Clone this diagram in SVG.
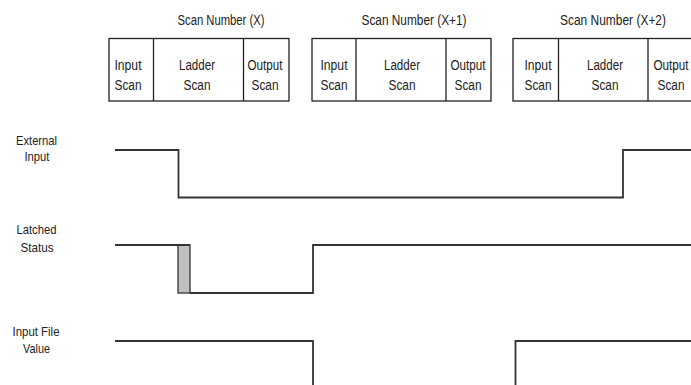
<svg xmlns="http://www.w3.org/2000/svg" width="691" height="385" viewBox="0 0 691 385">
<style>
text{font-family:"Liberation Sans",Arial,sans-serif;fill:#222;text-anchor:middle}
.t{font-size:14px}
.b{font-size:14px}
.l{font-size:13.5px}
.box{fill:#fff;stroke:#222;stroke-width:1.3}
.div{stroke:#222;stroke-width:1.3}
.w{fill:none;stroke:#333;stroke-width:1.8;stroke-linejoin:miter}
</style>
<rect width="691" height="385" fill="#fff"/>
<g id="scan1">
<text class="t" x="221" y="25" textLength="87" lengthAdjust="spacingAndGlyphs">Scan Number (X)</text>
<rect class="box" x="109" y="38.5" width="180" height="62.5"/>
<line class="div" x1="153.5" y1="38.5" x2="153.5" y2="101"/>
<line class="div" x1="243.5" y1="38.5" x2="243.5" y2="101"/>
<text class="b" x="128" y="69.5" textLength="27" lengthAdjust="spacingAndGlyphs">Input</text><text class="b" x="128" y="89.5" textLength="27" lengthAdjust="spacingAndGlyphs">Scan</text>
<text class="b" x="197" y="69.5" textLength="36" lengthAdjust="spacingAndGlyphs">Ladder</text><text class="b" x="197" y="89.5" textLength="27" lengthAdjust="spacingAndGlyphs">Scan</text>
<text class="b" x="265" y="69.5" textLength="35" lengthAdjust="spacingAndGlyphs">Output</text><text class="b" x="265" y="89.5" textLength="27" lengthAdjust="spacingAndGlyphs">Scan</text>
</g>
<g id="scan2">
<text class="t" x="414" y="25" textLength="105" lengthAdjust="spacingAndGlyphs">Scan Number (X+1)</text>
<rect class="box" x="312" y="38.5" width="179" height="62.5"/>
<line class="div" x1="356" y1="38.5" x2="356" y2="101"/>
<line class="div" x1="446" y1="38.5" x2="446" y2="101"/>
<text class="b" x="334" y="69.5" textLength="27" lengthAdjust="spacingAndGlyphs">Input</text><text class="b" x="334" y="89.5" textLength="27" lengthAdjust="spacingAndGlyphs">Scan</text>
<text class="b" x="402" y="69.5" textLength="36" lengthAdjust="spacingAndGlyphs">Ladder</text><text class="b" x="402" y="89.5" textLength="27" lengthAdjust="spacingAndGlyphs">Scan</text>
<text class="b" x="468" y="69.5" textLength="35" lengthAdjust="spacingAndGlyphs">Output</text><text class="b" x="468" y="89.5" textLength="27" lengthAdjust="spacingAndGlyphs">Scan</text>
</g>
<g id="scan3">
<text class="t" x="613" y="25" textLength="106" lengthAdjust="spacingAndGlyphs">Scan Number (X+2)</text>
<rect class="box" x="513" y="38.5" width="190" height="62.5"/>
<line class="div" x1="558.5" y1="38.5" x2="558.5" y2="101"/>
<line class="div" x1="648" y1="38.5" x2="648" y2="101"/>
<text class="b" x="538" y="69.5" textLength="27" lengthAdjust="spacingAndGlyphs">Input</text><text class="b" x="538" y="89.5" textLength="27" lengthAdjust="spacingAndGlyphs">Scan</text>
<text class="b" x="605" y="69.5" textLength="36" lengthAdjust="spacingAndGlyphs">Ladder</text><text class="b" x="605" y="89.5" textLength="27" lengthAdjust="spacingAndGlyphs">Scan</text>
<text class="b" x="671" y="69.5" textLength="35" lengthAdjust="spacingAndGlyphs">Output</text><text class="b" x="671" y="89.5" textLength="27" lengthAdjust="spacingAndGlyphs">Scan</text>
</g>
<g id="labels">
<text class="l" x="36.5" y="145" textLength="41" lengthAdjust="spacingAndGlyphs">External</text><text class="l" x="37" y="161" textLength="25" lengthAdjust="spacingAndGlyphs">Input</text>
<text class="l" x="36.5" y="234" textLength="40" lengthAdjust="spacingAndGlyphs">Latched</text><text class="l" x="37" y="251.5" textLength="33" lengthAdjust="spacingAndGlyphs">Status</text>
<text class="l" x="36" y="336" textLength="47" lengthAdjust="spacingAndGlyphs">Input File</text><text class="l" x="36.5" y="353" textLength="27" lengthAdjust="spacingAndGlyphs">Value</text>
</g>
<g id="connectors">
<polyline class="w" points="115,150 178.5,150 178.5,197.5 623,197.5 623,150 691,150"/>
<rect x="178" y="245" width="12" height="48" fill="#c0c0c0" stroke="#333" stroke-width="1.3"/>
<polyline class="w" points="115,245 190,245"/>
<polyline class="w" points="190,293 313,293 313,245 691,245"/>
<polyline class="w" points="115,341 313,341 313,385"/>
<polyline class="w" points="515.5,385 515.5,341 691,341"/>
</g>
</svg>
